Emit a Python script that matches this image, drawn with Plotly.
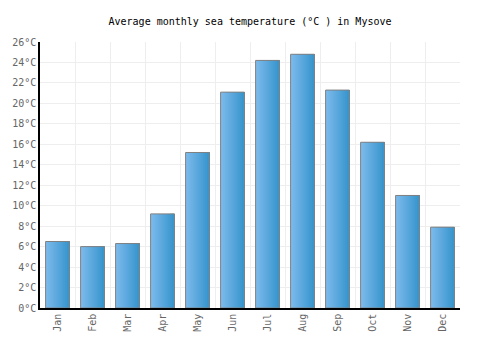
import plotly.graph_objects as go

months = ["Jan", "Feb", "Mar", "Apr", "May", "Jun", "Jul", "Aug", "Sep", "Oct", "Nov", "Dec"]
temps = [6.5, 6.0, 6.3, 9.2, 15.2, 21.1, 24.2, 24.8, 21.3, 16.2, 11.0, 7.9]
y_ticks = list(range(0, 27, 2))
y_labels = [f"{v}°C" for v in y_ticks]

x = list(range(len(months)))
bar_w = 0.68
n_slices = 12
c0 = (124, 186, 236)
c1 = (56, 150, 206)

fig = go.Figure()
sw = bar_w / n_slices
for i in range(n_slices):
    t = i / (n_slices - 1)
    col = "rgb(%d,%d,%d)" % tuple(int(a + (b - a) * t) for a, b in zip(c0, c1))
    fig.add_trace(go.Bar(x=x, y=temps, width=bar_w - i * sw, offset=-bar_w / 2 + i * sw,
                         marker=dict(color=col, line=dict(width=0)),
                         hoverinfo="skip", showlegend=False))
fig.add_trace(go.Bar(x=x, y=temps, width=bar_w, offset=-bar_w / 2,
                     marker=dict(color="rgba(0,0,0,0)", line=dict(color="#808080", width=1)),
                     showlegend=False))
# invisible trace for the category-boundary grid
fig.add_trace(go.Scatter(x=[-0.5, 11.5], y=[0, 0], xaxis="x2", mode="markers",
                         marker=dict(opacity=0), hoverinfo="skip", showlegend=False))

font = "DejaVu Sans Mono"
fig.update_layout(
    width=500, height=350,
    margin=dict(l=40, r=40, t=42, b=42),
    paper_bgcolor="white", plot_bgcolor="white",
    barmode="overlay",
    title=dict(text="Average monthly sea temperature (°C ) in Mysove", x=0.5, xanchor="center",
               y=0.94, yanchor="middle", font=dict(family=font, size=10, color="#000")),
    xaxis=dict(range=[-0.5, 11.5], tickvals=x, ticktext=months, tickangle=-90,
               showgrid=False, showline=True, linecolor="#000", linewidth=1.5,
               ticks="", tickfont=dict(family=font, size=10, color="#666"), zeroline=False),
    xaxis2=dict(range=[-0.5, 11.5], overlaying="x", tick0=-0.5, dtick=1, showgrid=True,
                gridcolor="#eeeeee", gridwidth=1, showticklabels=False, ticks="", zeroline=False,
                layer="below traces"),
    yaxis=dict(range=[0, 26], tickvals=y_ticks, ticktext=y_labels, showgrid=True,
               gridcolor="#eeeeee", gridwidth=1, showline=True, linecolor="#000", linewidth=1.5,
               ticks="", zeroline=False, tickfont=dict(family=font, size=10, color="#666")),
)
fig.write_html("out.html")
